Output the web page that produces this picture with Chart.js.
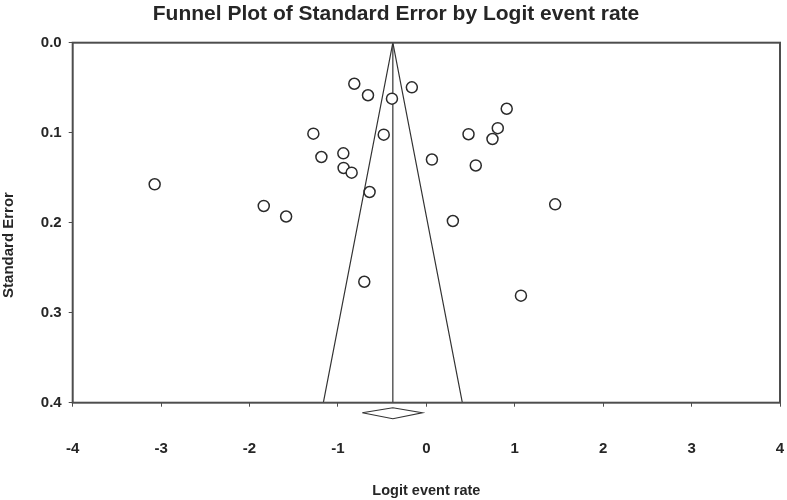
<!DOCTYPE html>
<html>
<head>
<meta charset="utf-8">
<script src="https://cdn.jsdelivr.net/npm/chart.js@4"></script>
<style>
  html, body { margin: 0; padding: 0; background: #fff; }
  #wrap { width: 787px; height: 500px; }
</style>
</head>
<body>
<div id="wrap"><canvas id="c" width="787" height="500"></canvas></div>
<script>
// Study points: logit event rate (x) and standard error (y)
const logitRate = [-3.073, -1.839, -1.586, -1.278, -1.187, -0.939, -0.936, -0.845, -0.815, -0.660, -0.642, -0.702,
                   -0.482, -0.389, -0.164, 0.063, 0.300, 0.477, 0.559, 0.748, 0.808, 0.909, 1.457, 1.070];
const stdError  = [0.1573, 0.1814, 0.1931, 0.1011, 0.1270, 0.1229, 0.1392, 0.1444, 0.0456, 0.0584, 0.1659, 0.2656,
                   0.1022, 0.0622, 0.0496, 0.1298, 0.1981, 0.1017, 0.1364, 0.1070, 0.0950, 0.0734, 0.1796, 0.2811];

// Funnel (pseudo 95% limits)
const funnelX = [-1.165, -0.379, 0.407];
const funnelY = [0.4, 0.0, 0.4];

// Vertical line at the combined effect
const meanX = [-0.379, -0.379];
const meanY = [0.0, 0.4];

// Summary diamond (drawn just below the axis)
const diamondX = [-0.725, -0.379, -0.047, -0.379, -0.725];
const diamondY = [0.4112, 0.4056, 0.4112, 0.4178, 0.4112];

// Tick labels
const xTicks = [-4, -3, -2, -1, 0, 1, 2, 3, 4];
const yTicks = [0.0, 0.1, 0.2, 0.3, 0.4];

const zip = (xs, ys) => xs.map((x, i) => ({ x: x, y: ys[i] }));

const FONT = "'Liberation Sans', Arial, sans-serif";
const INK = '#262626';

const framePlugin = {
  id: 'frame',
  afterDatasetsDraw(chart) {
    const { ctx, chartArea: a } = chart;
    ctx.save();
    ctx.strokeStyle = '#4d4d4d';
    ctx.lineWidth = 2;
    ctx.strokeRect(a.left, a.top, a.right - a.left, a.bottom - a.top);
    ctx.restore();
  }
};

const yTitlePlugin = {
  id: 'yTitle',
  afterDraw(chart) {
    const { ctx } = chart;
    ctx.save();
    ctx.translate(9, 245);
    ctx.rotate(-Math.PI / 2);
    ctx.fillStyle = INK;
    ctx.font = "bold 15px " + FONT;
    ctx.textAlign = 'center';
    ctx.textBaseline = 'middle';
    ctx.fillText('Standard Error', 0, 0);
    ctx.restore();
  }
};

new Chart(document.getElementById('c'), {
  type: 'scatter',
  data: {
    datasets: [
      {
        type: 'line',
        data: zip(funnelX, funnelY),
        borderColor: '#333',
        borderWidth: 1.2,
        pointRadius: 0,
        fill: false,
        tension: 0,
        order: 3
      },
      {
        type: 'line',
        data: zip(meanX, meanY),
        borderColor: '#333',
        borderWidth: 1.2,
        pointRadius: 0,
        fill: false,
        order: 3
      },
      {
        type: 'line',
        data: zip(diamondX, diamondY),
        borderColor: '#333',
        borderWidth: 1.2,
        pointRadius: 0,
        fill: false,
        clip: false,
        order: 3
      },
      {
        data: zip(logitRate, stdError),
        pointRadius: 5.5,
        pointHoverRadius: 5.5,
        pointBackgroundColor: '#fff',
        pointBorderColor: '#2b2b2b',
        pointBorderWidth: 1.5,
        order: 1
      }
    ]
  },
  options: {
    responsive: false,
    animation: false,
    events: [],
    layout: { padding: { left: 10, right: 5, top: 0, bottom: 0 } },
    plugins: {
      legend: { display: false },
      tooltip: { enabled: false },
      title: {
        display: true,
        text: 'Funnel Plot of Standard Error by Logit event rate',
        color: INK,
        font: { family: FONT, size: 21, weight: 'bold' },
        padding: { top: 1.5, bottom: 16 }
      }
    },
    scales: {
      x: {
        type: 'linear',
        min: -4,
        max: 4,
        afterBuildTicks: (s) => { s.ticks = xTicks.map(v => ({ value: v })); },
        afterFit: (s) => { s.height = 97.3; s.paddingLeft = 0; s.paddingRight = 0; },
        ticks: {
          color: INK,
          font: { family: FONT, size: 15, weight: 'bold' },
          padding: 33,
          callback: (v) => String(v)
        },
        grid: { drawOnChartArea: false, drawTicks: true, tickLength: 4, color: '#4d4d4d' },
        border: { display: false },
        title: {
          display: true,
          text: 'Logit event rate',
          color: INK,
          font: { family: FONT, size: 14.5, weight: 'bold' },
          padding: { top: 0, bottom: 0 }
        }
      },
      y: {
        type: 'linear',
        reverse: true,
        min: 0,
        max: 0.4,
        afterBuildTicks: (s) => { s.ticks = yTicks.map(v => ({ value: v })); },
        afterFit: (s) => { s.width = 62.7; },
        ticks: {
          color: INK,
          font: { family: FONT, size: 15, weight: 'bold' },
          padding: 7,
          callback: (v) => Number(v).toFixed(1)
        },
        grid: { drawOnChartArea: false, drawTicks: true, tickLength: 4, color: '#4d4d4d' },
        border: { display: false },
        title: { display: false }
      }
    }
  },
  plugins: [framePlugin, yTitlePlugin]
});
</script>
</body>
</html>
